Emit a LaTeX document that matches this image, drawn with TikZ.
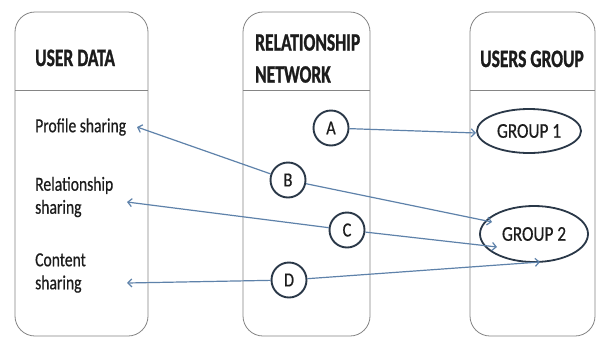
\documentclass[tikz,border=0pt]{standalone}
\usepackage{fontspec}
\setmainfont{Carlito}
\newfontfamily\headfont[FakeStretch=0.70,FakeBold=1]{Carlito}
\newfontfamily\itemfont[FakeStretch=0.78,FakeBold=0.5]{Carlito}
\newfontfamily\markfont[FakeStretch=0.82,FakeBold=0.5]{Carlito}
\usetikzlibrary{arrows.meta,shapes.geometric}
\definecolor{frame}{HTML}{858585}
\definecolor{ring}{HTML}{2A3848}
\definecolor{wire}{HTML}{5E82AA}
\definecolor{ink}{HTML}{1C1C1C}
\begin{document}
\begin{tikzpicture}[x=1pt,y=-1pt,
  lane/.style={draw=frame,line width=0.8pt,rounded corners=20pt},
  head/.style={font=\headfont\bfseries\fontsize{25}{32}\selectfont,text=ink,inner sep=0pt,align=left},
  item/.style={font=\itemfont\fontsize{20}{23}\selectfont,text=ink,inner sep=0pt,align=left,anchor=west},
  actor/.style={circle,draw=ring,line width=1.9pt,minimum size=35pt,inner sep=0pt,
    font=\markfont\fontsize{20}{20}\selectfont,text=ink,fill=white},
  team/.style={ellipse,draw=ring,line width=1.8pt,inner sep=0pt,
    font=\markfont\fontsize{21}{21}\selectfont,text=ink},
  link/.style={draw=wire,line width=1.2pt,-{Straight Barb[length=4pt,width=8pt]}}]
\useasboundingbox (0,0) rectangle (596,338);
\fill[white] (0,0) rectangle (596,338);

% three swim lanes with a header band each
\draw[lane] (15,12) rectangle (148,336);
\draw[lane] (243,12) rectangle (370,336);
\draw[lane] (470,12) rectangle (595,336);
\draw[frame,line width=0.8pt] (15,90) -- (148,90);
\draw[frame,line width=0.8pt] (243,90) -- (370,90);
\draw[frame,line width=0.8pt] (470,90) -- (595,90);

% headers
\node[head,anchor=base west] (hdata) at (35,66) {USER DATA};
\node[head,anchor=north west] (hnet) at (255,34) {RELATIONSHIP\\NETWORK};
\node[head,anchor=base west] (hgroup) at (480,67) {USERS GROUP};

% user data items
\node[item] (prof) at (35,127) {Profile sharing};
\node[item] (rel) at (35,197) {Relationship\\sharing};
\node[item] (cont) at (35,273) {Content\\sharing};

% network members
\node[actor] (a) at (331,128) {A};
\node[actor] (b) at (288,180) {B};
\node[actor] (c) at (347,230) {C};
\node[actor] (d) at (289,280) {D};

% groups
\node[team,minimum width=104pt,minimum height=44pt] (g1) at (529,131) {GROUP 1};
\node[team,minimum width=108pt,minimum height=56pt] (g2) at (534,234) {GROUP 2};

% arrow ends
\coordinate (tprof) at (137,127);
\coordinate (trel) at (127,202);
\coordinate (tcont) at (127,283);
\coordinate (tg1) at (476,133);
\coordinate (tg2b) at (492,222);
\coordinate (tg2c) at (497,247);
\coordinate (tg2d) at (540,262);

% connectors
\draw[link] (a) -- (tg1);
\draw[link] (b) -- (tg2b);
\draw[link] (c) -- (tg2c);
\draw[link] (d) -- (tg2d);
\draw[link] (b) -- (tprof);
\draw[link] (c) -- (trel);
\draw[link] (d) -- (tcont);
\end{tikzpicture}
\end{document}
